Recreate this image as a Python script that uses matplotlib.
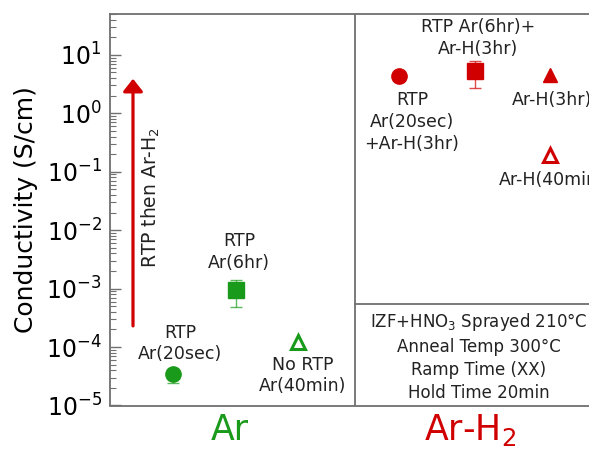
import matplotlib
matplotlib.use("Agg")
import matplotlib.pyplot as plt
import numpy as np

plt.rcParams['font.family'] = ['DejaVu Sans']
plt.rcParams['mathtext.default'] = 'regular'

GREEN = '#1a9a1a'
RED = '#d00000'
FRAME = '#707070'

# Ar group
ar_labels = ['RTP\nAr(20sec)', 'RTP\nAr(6hr)', 'No RTP\nAr(40min)']
ar_x = [63, 126, 188]
ar_y = [3.4e-5, 9.5e-4, 1.2e-4]
ar_err_lo = [1.0e-5, 4.7e-4, 0]
ar_err_hi = [0.8e-5, 4.5e-4, 0]
ar_markers = ['o', 's', '^']
ar_filled = [True, True, False]

# Ar-H2 group
arh_labels = ['RTP\nAr(20sec)\n+Ar-H(3hr)', 'RTP Ar(6hr)+\nAr-H(3hr)', 'Ar-H(3hr)', 'Ar-H(40min)']
arh_x = [289, 365, 440, 440]
arh_y = [4.4, 5.3, 4.6, 0.19]
arh_err_lo = [0, 2.6, 0, 0]
arh_err_hi = [0, 2.6, 0, 0]
arh_markers = ['o', 's', '^', '^']
arh_filled = [True, True, True, False]

info_lines = ['IZF+HNO$_3$ Sprayed 210°C', 'Anneal Temp 300°C',
              'Ramp Time (XX)', 'Hold Time 20min']

fig = plt.figure(figsize=(5.89, 4.51), dpi=100)
ax = fig.add_axes([110/589, 45.5/451, 485/589, 391.5/451])
ax.set_yscale('log')
ax.set_ylim(1e-5, 50)
ax.set_xlim(0, 485)

def draw(xs, ys, lo, hi, mks, fills, color):
    for x, y, l, h, m, f in zip(xs, ys, lo, hi, mks, fills):
        if l or h:
            ax.errorbar([x], [y], yerr=[[l], [h]], fmt='none', ecolor=color,
                        elinewidth=1, capsize=4, capthick=1, alpha=0.7, zorder=2)
        ms = 11 if m != '^' else 10
        ax.plot([x], [y], marker=m, ms=ms, color=color,
                mfc=color if f else 'white', mec=color,
                mew=1.0 if f else 2.2, ls='none', zorder=3,
                clip_on=False)

draw(ar_x, ar_y, ar_err_lo, ar_err_hi, ar_markers, ar_filled, GREEN)
draw(arh_x, arh_y, arh_err_lo, arh_err_hi, arh_markers, arh_filled, RED)

# annotations
tk = dict(ha='center', va='center', fontsize=12.5, color='#222222', linespacing=1.27)
ax.text(70, 10**-3.94, ar_labels[0], **tk)
ax.text(129, 10**-2.376, ar_labels[1], **tk)
ax.text(193, 10**-4.487, ar_labels[2], **tk)
ax.text(302, 10**-0.145, arh_labels[0], **tk)
ax.text(368, 10**1.29, arh_labels[1], **tk)
ax.text(442, 10**0.23, arh_labels[2], **tk)
ax.text(442, 10**-1.137, arh_labels[3], **tk)

ax.text(369, 10**-4.16, '\n'.join(info_lines),
        ha='center', va='center', fontsize=12, color='#222222', linespacing=1.35)

# arrow
ax.annotate('', xy=(23, 3.9), xytext=(23, 2.3e-4),
            arrowprops=dict(arrowstyle='-|>,head_width=0.3,head_length=0.38',
                            color=RED, lw=2.3, shrinkA=0, shrinkB=0,
                            mutation_scale=20))
ax.text(41, 10**-1.44, 'RTP then Ar-H$_2$', rotation=90, ha='center',
        va='center', fontsize=13.5, color='#222222')

# dividers
ax.axvline(245, color=FRAME, lw=1.3)
ax.plot([245, 485], [5.4e-4, 5.4e-4], color=FRAME, lw=1.3)

for s in ax.spines.values():
    s.set_color(FRAME)
    s.set_linewidth(1.3)

ax.set_xticks([])
ax.tick_params(axis='y', which='major', direction='in', length=8, width=1,
               color=FRAME, labelsize=17, pad=6)
ax.tick_params(axis='y', which='minor', direction='in', length=4, width=0.8,
               color=FRAME)
ax.set_ylabel('Conductivity (S/cm)', fontsize=18, labelpad=6)

fig.text(230/589, 1 - 430/451, 'Ar', color=GREEN, fontsize=25,
         ha='center', va='center')
fig.text(470/589, 1 - 430/451, 'Ar-H$_2$', color=RED, fontsize=25,
         ha='center', va='center')

fig.savefig('out.png', dpi=100)
